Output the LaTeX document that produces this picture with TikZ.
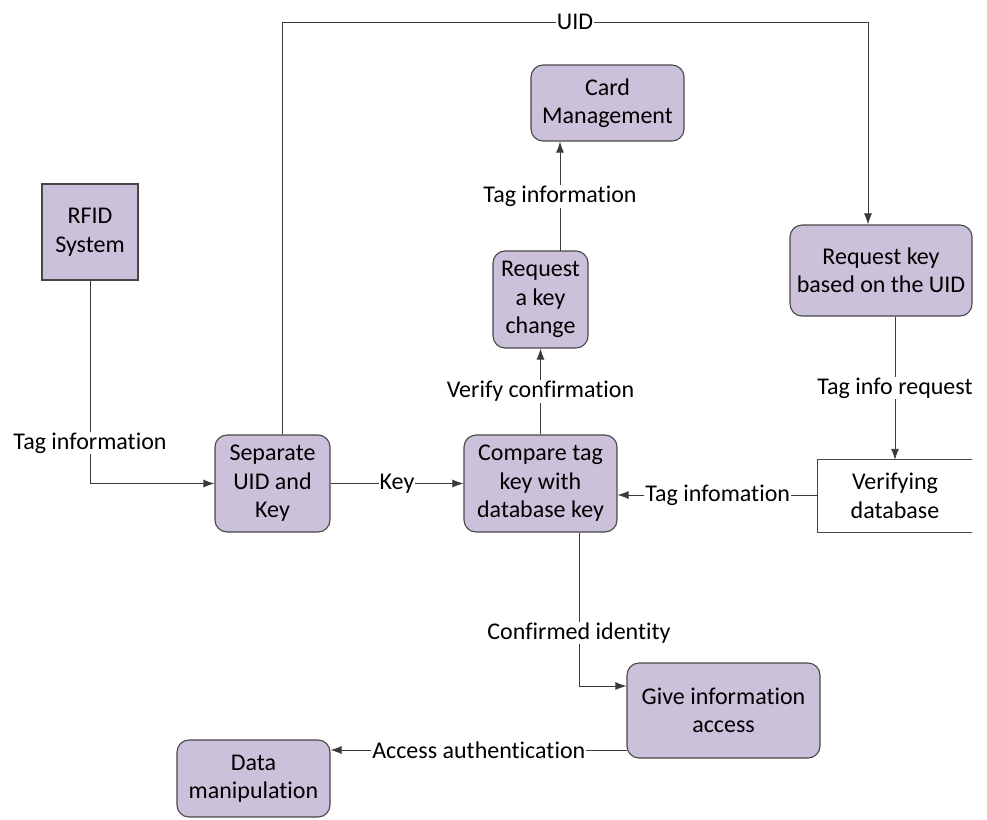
\documentclass[tikz,border=0pt]{standalone}
\usepackage{fontspec}
\setmainfont{Carlito}[Ligatures=NoCommon]
\usetikzlibrary{arrows.meta}
\definecolor{boxfill}{HTML}{CCC1DA}
\definecolor{boxline}{HTML}{474747}
\definecolor{conline}{HTML}{3A3A3A}
\begin{document}
\begin{tikzpicture}[x=1pt,y=-1pt,
  every node/.style={font=\fontsize{24}{28.5}\selectfont, text=black},
  proc/.style={draw=boxline, line width=1.1pt, fill=boxfill, rounded corners=12pt,
    align=center, inner sep=0pt},
  ext/.style={draw=boxline, line width=1.1pt, fill=boxfill, align=center, inner sep=0pt},
  store/.style={align=center, inner sep=0pt},
  arr/.style={draw=conline, line width=0.9pt, -{Latex[length=11pt,width=8pt]}},
  lbl/.style={fill=white, inner sep=1pt}
]
\useasboundingbox (0,0) rectangle (987,819);

% nodes
\node[ext,  minimum width=96pt,  minimum height=96pt] (rfid) at (90,232) {RFID\\System};
\node[proc, minimum width=115pt, minimum height=97pt] (sep)  at (272.5,483.5) {Separate\\UID and\\Key};
\node[proc, minimum width=153pt, minimum height=97pt] (cmp)  at (540.5,483.5) {Compare tag\\key with\\database key};
\node[proc, minimum width=153pt, minimum height=76pt] (card) at (607.5,103) {Card\\Management};
\node[proc, minimum width=95pt,  minimum height=97pt] (rkc)  at (540.5,299.5) {Request\\a key\\change};
\node[proc, minimum width=182pt, minimum height=91pt] (rku)  at (881,270.5) {Request key\\based on the UID};
\node[store, minimum width=154pt, minimum height=72pt] (vdb) at (895,496) {Verifying\\database};
\node[proc, minimum width=193pt, minimum height=95pt] (give) at (723.5,710.5) {Give information\\access};
\node[proc, minimum width=153pt, minimum height=77pt] (data) at (253.5,778.5) {Data\\manipulation};

% data store open rectangle
\draw[draw=boxline, line width=1.1pt] (vdb.north east) -- (vdb.north west) -- (vdb.south west) -- (vdb.south east);

% coordinates for bends
\coordinate (r1) at (90,483.5);
\coordinate (u1) at (282,22);
\coordinate (u2) at (868,22);
\coordinate (c1) at (579,686);
\coordinate (g1) at (627,750);
\coordinate (k1) at (560,251);

% connectors
\draw[arr] (rfid.south) -- node[lbl, pos=0.8]{Tag information} (r1) -- (sep.west);
\draw[arr] (sep.east) -- node[lbl]{Key} (cmp.west);
\draw[arr] (vdb.west |- 0,495) -- node[lbl]{Tag infomation} (cmp.east |- 0,495);
\draw[arr] (cmp.north) -- node[lbl]{Verify confirmation} (rkc.south);
\draw[arr] (k1) -- node[lbl]{Tag information} (k1 |- card.south);
\draw[arr] (sep.north -| u1) -- (u1) -- node[lbl]{UID} (u2) -- (u2 |- rku.north);
\draw[arr] (rku.south -| vdb.north) -- node[lbl]{Tag info request} (vdb.north);
\draw[arr] (cmp.south -| c1) -- node[lbl, pos=0.656]{Confirmed identity} (c1) -- (c1 -| give.west);
\draw[arr] (g1) -- node[lbl]{Access authentication} (g1 -| data.east);
\end{tikzpicture}
\end{document}
